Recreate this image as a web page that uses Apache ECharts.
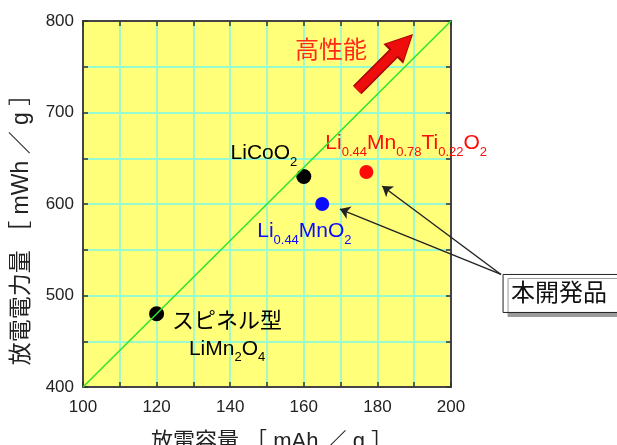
<!DOCTYPE html>
<html><head><meta charset="utf-8">
<script src="https://cdn.jsdelivr.net/npm/echarts@6/dist/echarts.min.js"></script>
<style>html,body{margin:0;padding:0;background:#fff}#c{width:617px;height:445px}</style>
</head><body><div id="c"></div>
<script>
// ---- data ----
const xTicks = [100, 120, 140, 160, 180, 200];
const yTicks = [400, 500, 600, 700, 800];
const materials = ['LiCoO2', 'Li0.44MnO2', 'Li0.44Mn0.78Ti0.22O2', 'LiMn2O4'];
const capacity = [160, 165, 177, 120];   // mAh/g
const energy = [630, 600, 635, 480];     // mWh/g
const labelTexts = [
  '{m|LiCoO}{s|2}',
  '{m|Li}{s|0.44}{m|MnO}{s|2}',
  '{m|Li}{s|0.44}{m|Mn}{s|0.78}{m|Ti}{s|0.22}{m|O}{s|2}',
  '{c|スピネル型}\n{m|LiMn}{s|2}{m|O}{s|4}'
];
const refLineX = [100, 200];
const refLineY = [400, 800];
const calloutCorner = [213.6, 523.0];
const calloutTargets = [[181.3, 619.7], [169.8, 594.5]];
const perfArrow = [[174.5, 724.6], [187.0, 775.0]];
const perfTextPos = [157.6, 766.7];
const perfText = '高性能';
const calloutText = '本開発品';
const xName = '放電容量 ［ mAh ／ g ］';
const yName = '放電電力量 ［ mWh ／ g ］';

// ---- styles ----
const FONT = '"Liberation Sans", "Noto Sans CJK JP", sans-serif';
const pointColors = ['#000000', '#0a0aff', '#ff0a0a', '#000000'];
const pointSizes = [15, 14, 14, 15];
const labelPos = [[1, -26], [-58, 24], [-34, -32], [78, 0]];
const labelAlign = ['right', 'left', 'left', 'center'];
const rich = {
  m: { fontSize: 21, lineHeight: 20, verticalAlign: 'top', fontFamily: FONT },
  s: { fontSize: 13, lineHeight: 13, padding: [13, 0, 0, 0], verticalAlign: 'top', fontFamily: FONT },
  c: { fontSize: 22, lineHeight: 32, verticalAlign: 'middle', fontFamily: FONT }
};
const gridColor = '#98fbd0';
const xMin = xTicks[0], xMax = xTicks[xTicks.length - 1], xInt = xTicks[1] - xTicks[0];
const yMin = yTicks[0], yMax = yTicks[yTicks.length - 1], yInt = yTicks[1] - yTicks[0];

function axis(extra, min, max, interval, main) {
  return Object.assign({
    type: 'value', min, max, interval,
    axisLine: { show: true, onZero: false, lineStyle: { color: '#444', width: 2 } },
    axisTick: { show: true, inside: true, length: 5, lineStyle: { color: '#333', width: 1.5 } },
    minorTick: { show: true, splitNumber: 2, length: 5, lineStyle: { color: '#333', width: 1.5 } },
    splitLine: { show: main, lineStyle: { color: gridColor, width: 1.8 } },
    minorSplitLine: { show: main, lineStyle: { color: gridColor, width: 1.8 } },
    axisLabel: { show: main, fontSize: 17, color: '#222', fontFamily: FONT }
  }, extra);
}

const chart = echarts.init(document.getElementById('c'), null, { renderer: 'canvas' });
const option = {
  animation: false,
  backgroundColor: '#ffffff',
  grid: { left: 83, top: 21, width: 368, height: 366, show: true, backgroundColor: '#ffff7a', borderWidth: 0, containLabel: false, outerBoundsMode: 'none' },
  xAxis: [
    axis({ position: 'bottom', name: xName, nameLocation: 'middle', nameGap: 44, nameMoveOverlap: false,
      nameTextStyle: { fontSize: 22, color: '#222', fontFamily: FONT, padding: [0, 0, 0, 10] },
      axisLabel: { show: true, margin: 12, fontSize: 17, color: '#222', fontFamily: FONT } }, xMin, xMax, xInt, true),
    axis({ position: 'top' }, xMin, xMax, xInt, false)
  ],
  yAxis: [
    axis({ position: 'left', name: yName, nameLocation: 'middle', nameGap: 50, nameMoveOverlap: false,
      nameTextStyle: { fontSize: 23, color: '#222', fontFamily: FONT, padding: [0, 40, 0, 0] },
      axisLabel: { show: true, margin: 9, fontSize: 17, color: '#222', fontFamily: FONT } }, yMin, yMax, yInt, true),
    axis({ position: 'right' }, yMin, yMax, yInt, false)
  ],
  series: [
    {
      type: 'lines', coordinateSystem: 'cartesian2d', clip: false, silent: true, z: 3,
      symbol: ['none', 'triangle'], symbolSize: 28,
      lineStyle: { color: '#a80000', width: 12, opacity: 1 },
      data: [{ coords: perfArrow }]
    },
    {
      type: 'lines', coordinateSystem: 'cartesian2d', clip: false, silent: true, z: 3,
      symbol: ['none', 'triangle'], symbolSize: 24,
      lineStyle: { color: '#ee0d0d', width: 9, opacity: 1 },
      data: [{ coords: perfArrow }]
    },
    {
      type: 'lines', coordinateSystem: 'cartesian2d', clip: false, silent: true, z: 4,
      symbol: ['none', 'arrow'], symbolSize: 10,
      lineStyle: { color: '#222', width: 1.4, opacity: 1 },
      data: calloutTargets.map(t => ({ coords: [calloutCorner, t] }))
    },
    {
      type: 'scatter', z: 5, clip: false,
      data: materials.map((name, i) => ({
        name,
        value: [capacity[i], energy[i]],
        symbolSize: pointSizes[i],
        itemStyle: { color: pointColors[i], opacity: 1 },
        label: {
          show: true, formatter: labelTexts[i], position: labelPos[i], align: labelAlign[i], opacity: 1,
          color: pointColors[i], fontFamily: FONT, rich: Object.fromEntries(Object.entries(rich).map(([k, v]) => [k, Object.assign({ color: pointColors[i] }, v)]))
        }
      }))
    },
    {
      type: 'line', silent: true, showSymbol: false, z: 6,
      data: refLineX.map((x, i) => [x, refLineY[i]]),
      lineStyle: { color: '#2be62b', width: 1.5 }
    }
  ]
};
chart.setOption(option);

const c0 = chart.convertToPixel({ gridIndex: 0 }, calloutCorner);
const pt = chart.convertToPixel({ gridIndex: 0 }, perfTextPos);
chart.setOption({
  graphic: [
    { type: 'rect', z: 10, shape: { x: c0[0] + 2, y: c0[1], width: 130, height: 38 },
      style: { fill: '#ffffff', stroke: '#222', lineWidth: 1, shadowColor: '#9a9a9a', shadowOffsetX: 5, shadowOffsetY: 4, shadowBlur: 0 } },
    { type: 'text', z: 11, style: { text: calloutText, x: c0[0] + 10, y: c0[1] + 20, fontSize: 24, verticalAlign: 'middle', fill: '#111', fontFamily: FONT } },
    { type: 'text', z: 11, style: { text: perfText, x: pt[0], y: pt[1], fontSize: 24, verticalAlign: 'middle', fill: '#ff2a1a', fontFamily: FONT } }
  ]
});
</script></body></html>
